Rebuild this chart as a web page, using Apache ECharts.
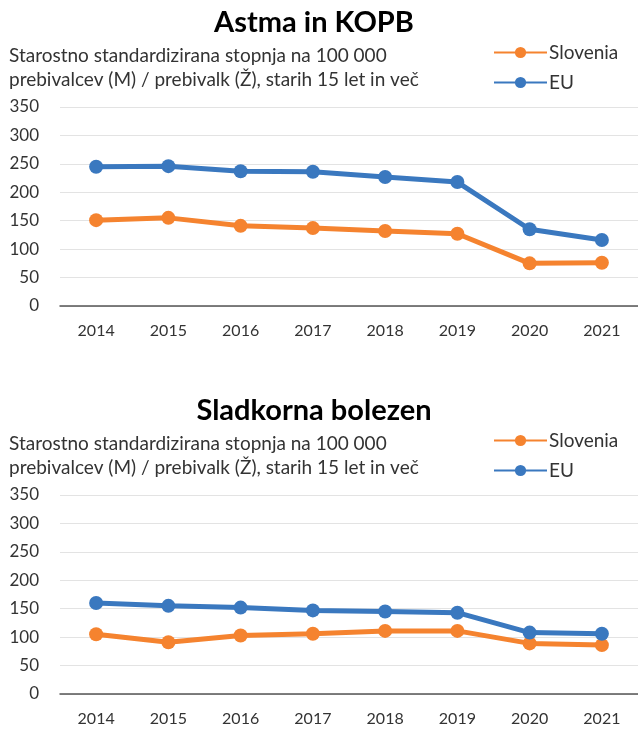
<!DOCTYPE html>
<html><head><meta charset="utf-8">
<script src="https://cdn.jsdelivr.net/npm/echarts@6/dist/echarts.min.js"></script>
<style>html,body{margin:0;padding:0;background:#fff;}#c1{width:638px;height:388px;}#c2{width:638px;height:343px;}</style>
</head><body>
<div id="c1"></div><div id="c2"></div>
<script>
var years = ['2014','2015','2016','2017','2018','2019','2020','2021'];
var title1 = 'Astma in KOPB';
var title2 = 'Sladkorna bolezen';
var subtitle = 'Starostno standardizirana stopnja na 100 000\nprebivalcev (M) / prebivalk (Ž), starih 15 let in več';
var astmaSlovenia = [151, 155, 141, 137, 132, 127, 75, 76];
var astmaEU = [245, 246, 237, 236, 227, 218, 135, 116];
var diabSlovenia = [105, 91, 103, 106, 111, 111, 89, 86];
var diabEU = [160, 155, 152, 147, 145, 143, 108, 106];
var yTicks = {min: 0, max: 350, interval: 50};
var FONT = 'Lato';
var ORANGE = '#F5832F';
var BLUE = '#3A78BF';

function makeOption(title, slo, eu) {
  function s(name, data, color) {
    return {
      name: name, type: 'line', data: data,
      symbol: 'circle', symbolSize: 14,
      lineStyle: {width: 5, color: color},
      itemStyle: {color: color},
      emphasis: {disabled: true},
      animation: false
    };
  }
  return {
    animation: false,
    textStyle: {fontFamily: FONT},
    title: [
      {text: title, left: 314, textAlign: 'center', top: 8, padding: 0,
       textStyle: {fontFamily: FONT, fontSize: 29, fontWeight: 'bold', color: '#000'}},
      {text: subtitle, left: 9, top: 44, padding: 0,
       textStyle: {fontFamily: FONT, fontSize: 19, fontWeight: 'normal', color: '#333', lineHeight: 24}}
    ],
    legend: {
      orient: 'vertical', left: 493, top: 43, padding: 0,
      itemWidth: 53, itemHeight: 14, itemGap: 11,
      textStyle: {fontFamily: FONT, fontSize: 19, color: '#333', lineHeight: 14, padding: [0,0,0,-3]},
      data: ['Slovenia', 'EU']
    },
    grid: {left: 60, top: 107, width: 582, height: 199},
    xAxis: {
      type: 'category', data: years, boundaryGap: true,
      axisLine: {lineStyle: {color: '#555', width: 1.5}},
      axisTick: {show: false},
      axisLabel: {fontFamily: FONT, fontSize: 16, color: '#333', margin: 17}
    },
    yAxis: {
      type: 'value', min: yTicks.min, max: yTicks.max, interval: yTicks.interval,
      axisLine: {show: false}, axisTick: {show: false},
      splitLine: {lineStyle: {color: '#e3e3e3', width: 1}},
      axisLabel: {fontFamily: FONT, fontSize: 17, color: '#333', margin: 21}
    },
    series: [s('Slovenia', slo, ORANGE), s('EU', eu, BLUE)]
  };
}
echarts.init(document.getElementById('c1')).setOption(makeOption(title1, astmaSlovenia, astmaEU));
echarts.init(document.getElementById('c2')).setOption(makeOption(title2, diabSlovenia, diabEU));
</script>
</body></html>
